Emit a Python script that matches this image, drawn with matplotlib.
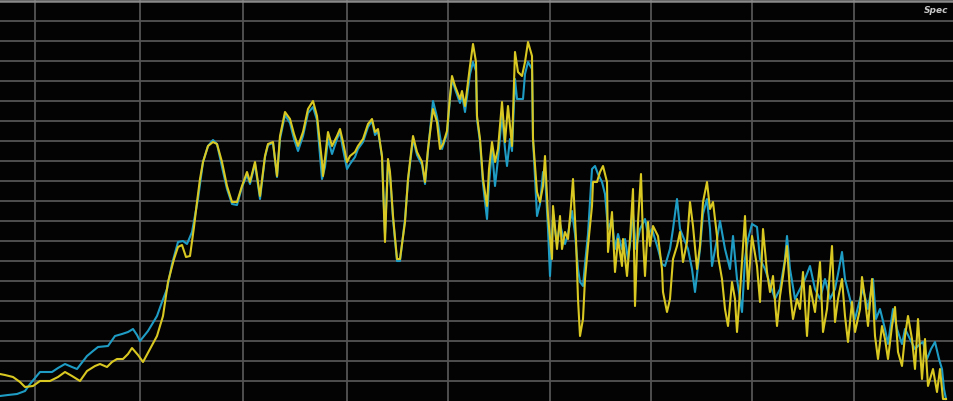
import matplotlib
matplotlib.use('Agg')
import matplotlib.pyplot as plt

# frequency bins and levels
yellow_bin = [0, 5, 13, 20, 25, 33, 40, 50, 58, 65,
              72, 80, 87, 95, 100, 107, 112, 117, 123, 128,
              132, 138, 143, 150, 157, 163, 168, 174, 178, 182,
              186, 190, 194, 197, 200, 203, 208, 213, 217, 222,
              227, 232, 237, 242, 247, 250, 255, 260, 265, 268,
              273, 277, 280, 285, 290, 294, 298, 303, 308, 313,
              317, 322, 323, 328, 332, 337, 340, 343, 347, 350,
              355, 358, 363, 368, 372, 375, 378, 382, 385, 388,
              390, 393, 397, 400, 405, 408, 413, 417, 422, 425,
              428, 433, 437, 440, 443, 447, 450, 452, 455, 460,
              462, 465, 470, 473, 476, 477, 480, 483, 487, 489,
              492, 495, 498, 502, 505, 508, 512, 515, 518, 522,
              525, 528, 532, 533, 537, 540, 543, 545, 548, 552,
              553, 557, 560, 562, 565, 568, 571, 573, 576, 578,
              580, 583, 585, 588, 592, 593, 597, 600, 603, 607,
              608, 612, 615, 618, 622, 623, 627, 630, 633, 635,
              638, 641, 643, 645, 648, 650, 653, 658, 662, 663,
              667, 670, 673, 677, 680, 683, 687, 690, 693, 697,
              700, 703, 707, 710, 713, 717, 718, 722, 725, 728,
              732, 735, 737, 740, 745, 748, 752, 757, 760, 763,
              767, 770, 773, 777, 780, 783, 787, 790, 793, 797,
              800, 803, 807, 810, 815, 820, 823, 827, 832, 835,
              838, 842, 845, 848, 852, 855, 860, 862, 865, 868,
              872, 875, 878, 882, 885, 888, 892, 895, 898, 902,
              905, 908, 912, 915, 918, 922, 925, 928, 933, 937,
              940, 943, 946]
yellow_lvl = [27, 26, 24, 19, 14, 15, 20, 20, 24, 29,
              25, 20, 30, 35, 37, 34, 39, 42, 42, 47,
              53, 46, 39, 52, 65, 85, 119, 142, 154, 156,
              144, 145, 174, 199, 222, 239, 255, 259, 257, 239,
              215, 199, 199, 215, 229, 219, 239, 205, 245, 257,
              259, 225, 265, 289, 282, 267, 255, 269, 292, 300,
              285, 239, 225, 269, 255, 265, 272, 259, 239, 245,
              249, 255, 262, 277, 282, 269, 272, 245, 159, 242,
              229, 185, 142, 142, 179, 222, 265, 249, 239, 219,
              252, 292, 279, 252, 257, 270, 305, 325, 315, 302,
              310, 295, 335, 357, 339, 285, 262, 222, 195, 232,
              259, 239, 252, 299, 259, 295, 255, 349, 329, 325,
              339, 359, 345, 262, 209, 199, 215, 245, 185, 142,
              195, 152, 185, 152, 169, 162, 195, 222, 162, 102,
              65, 82, 122, 155, 195, 219, 219, 229, 235, 219,
              149, 189, 129, 162, 135, 162, 125, 162, 212, 95,
              179, 227, 162, 125, 179, 155, 175, 165, 132, 109,
              89, 102, 142, 155, 169, 139, 159, 199, 175, 132,
              155, 199, 219, 192, 199, 165, 145, 122, 92, 75,
              119, 102, 69, 109, 185, 112, 165, 135, 99, 172,
              129, 109, 125, 75, 105, 125, 155, 109, 82, 102,
              92, 129, 65, 115, 89, 139, 69, 92, 155, 79,
              102, 122, 85, 59, 99, 69, 92, 124, 102, 75,
              122, 65, 42, 75, 62, 42, 75, 94, 49, 35,
              65, 85, 62, 32, 82, 22, 62, 15, 32, 9,
              32, 2, 2]

blue_bin = [0, 8, 17, 25, 30, 40, 52, 58, 65, 72,
            77, 87, 93, 98, 108, 115, 122, 128, 133, 137,
            140, 148, 157, 162, 167, 172, 178, 183, 187, 192,
            198, 203, 208, 213, 217, 222, 227, 232, 237, 242,
            247, 250, 255, 260, 265, 268, 273, 277, 280, 285,
            290, 294, 298, 303, 308, 313, 317, 322, 325, 328,
            332, 337, 340, 343, 347, 350, 355, 358, 363, 368,
            372, 375, 378, 382, 385, 388, 390, 393, 397, 400,
            405, 408, 413, 417, 422, 425, 428, 433, 437, 442,
            447, 450, 452, 455, 460, 462, 465, 470, 473, 476,
            477, 480, 483, 487, 489, 492, 495, 498, 502, 505,
            507, 510, 512, 515, 517, 523, 525, 528, 532, 533,
            537, 540, 543, 545, 548, 550, 553, 557, 560, 565,
            568, 572, 575, 578, 580, 583, 585, 588, 592, 595,
            598, 602, 605, 608, 612, 615, 618, 622, 625, 628,
            630, 633, 636, 640, 645, 648, 652, 655, 658, 662,
            665, 670, 673, 677, 680, 684, 688, 692, 695, 700,
            703, 707, 710, 712, 717, 720, 725, 730, 733, 737,
            742, 745, 748, 752, 757, 760, 765, 770, 775, 780,
            785, 787, 790, 795, 800, 805, 810, 815, 820, 825,
            830, 835, 838, 842, 845, 850, 855, 860, 863, 868,
            873, 876, 880, 885, 888, 893, 897, 902, 905, 910,
            915, 920, 923, 927, 931, 935, 939, 942, 944, 946]
blue_lvl = [5, 6, 7, 10, 17, 29, 29, 33, 37, 34,
            32, 45, 50, 54, 55, 65, 67, 69, 72, 66,
            60, 70, 85, 99, 112, 137, 159, 160, 157, 169,
            202, 239, 255, 261, 257, 234, 212, 197, 196, 214,
            226, 217, 237, 202, 244, 256, 258, 224, 262, 286,
            278, 262, 250, 265, 288, 294, 281, 222, 234, 262,
            247, 262, 269, 252, 232, 237, 244, 252, 259, 274,
            280, 266, 270, 244, 167, 240, 226, 182, 140, 140,
            182, 220, 262, 246, 236, 217, 250, 300, 284, 252,
            267, 302, 322, 312, 298, 306, 289, 327, 339, 330,
            282, 259, 217, 182, 217, 252, 215, 242, 287, 252,
            235, 262, 250, 322, 302, 302, 327, 339, 332, 262,
            185, 197, 229, 227, 172, 125, 187, 157, 177, 157,
            167, 190, 167, 132, 119, 115, 137, 167, 232, 235,
            227, 219, 207, 172, 182, 152, 167, 152, 162, 142,
            157, 187, 152, 172, 182, 167, 172, 162, 152, 137,
            135, 152, 172, 202, 172, 162, 152, 132, 109, 152,
            187, 202, 172, 135, 162, 180, 152, 132, 165, 122,
            89, 142, 162, 177, 174, 142, 132, 117, 102, 112,
            142, 165, 132, 102, 112, 122, 135, 112, 102, 122,
            102, 112, 127, 149, 122, 102, 82, 102, 112, 92,
            122, 82, 92, 72, 57, 92, 72, 57, 72, 62,
            52, 57, 59, 42, 52, 59, 42, 32, 12, 2]

grid_bins = [35, 140, 243, 347, 448, 550, 651, 752, 854]
grid_lvls = list(range(20, 400, 20))

fig = plt.figure(figsize=(9.54, 4.02), dpi=100)
fig.patch.set_facecolor('black')
ax = fig.add_axes([0, 0, 1, 1])
ax.set_facecolor('#030303')
ax.set_xlim(0, 954)
ax.set_ylim(0, 402)

for gx in grid_bins:
    ax.axvline(gx, color='#545454', lw=1.3, zorder=1)
for gy in grid_lvls:
    ax.axhline(gy, color='#545454', lw=1.3, zorder=1)
ax.axhline(400, color='#8a8a8a', lw=1.8, zorder=1)

ax.plot(blue_bin, blue_lvl, color='#1f9cc4', lw=1.5, zorder=3)
ax.plot(yellow_bin, yellow_lvl, color='#d9c821', lw=1.5, zorder=4)

# panel title, only its start is on screen
ax.text(924, 396, 'Spec', fontsize=6.5, style='italic', weight='bold',
        color='#c8c8c8', ha='left', va='top', zorder=5)

ax.set_xticks([])
ax.set_yticks([])
for s in ax.spines.values():
    s.set_visible(False)

fig.savefig('out.png', dpi=100, facecolor='black')
